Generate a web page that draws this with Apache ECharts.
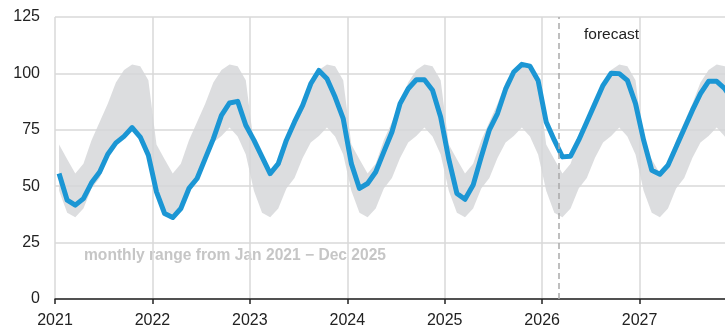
<!DOCTYPE html>
<html>
<head>
<meta charset="utf-8">
<script src="https://cdn.jsdelivr.net/npm/echarts@6/dist/echarts.min.js"></script>
<style>
html,body{margin:0;padding:0;background:#fff;}
#chart{width:725px;height:332px;}
</style>
</head>
<body>
<div id="chart"></div>
<script>
// Month index 0 = Jan 2021; points plotted mid-month
const yearLabels = ['2021','2022','2023','2024','2025','2026','2027'];
const monthly2021 = [55.6, 43.8, 41.6, 44.5, 51.5, 56.3, 64.2, 69.2, 72.1, 76.0, 71.8, 63.7];
const monthly2022 = [47.5, 37.9, 36.1, 40.1, 49.0, 53.4, 62.2, 71.0, 81.4, 86.9, 87.6, 77.0];
const monthly2023 = [70.4, 63.0, 55.6, 60.0, 70.4, 78.5, 85.8, 95.4, 101.3, 97.6, 89.5, 79.9];
const monthly2024 = [60.0, 49.0, 51.2, 56.3, 65.2, 74.0, 86.6, 93.2, 97.2, 97.2, 92.5, 80.7];
const monthly2025 = [62.0, 46.8, 44.2, 50.5, 63.0, 75.0, 82.2, 93.0, 100.6, 104.0, 103.2, 96.9];
const monthly2026 = [78.5, 70.4, 63.0, 63.3, 70.4, 78.5, 86.6, 94.7, 100.1, 99.9, 96.9, 86.6];
const monthly2027 = [70.4, 57.1, 55.3, 59.3, 67.4, 75.5, 83.6, 91.0, 96.5, 96.5, 93.2, 88.0];
// monthly range (Jan..Dec) from Jan 2021 - Dec 2025
const rangeLow  = [48.0, 38.2, 36.2, 40.1, 49.0, 53.6, 62.5, 69.4, 72.3, 76.0, 72.0, 64.0];
const rangeHigh = [68.5, 62.0, 55.6, 60.0, 70.4, 78.5, 86.6, 96.0, 101.5, 104.0, 103.2, 97.0];
const forecastStart = 62; // start of Mar 2026 in month units

const allYears = [monthly2021, monthly2022, monthly2023, monthly2024, monthly2025, monthly2026, monthly2027];
const lineData = [], bandData = [];
allYears.forEach((arr, y) => {
  arr.forEach((v, m) => {
    const x = y * 12 + m + 0.5;
    lineData.push([x, v]);
    bandData.push([x, rangeLow[m], rangeHigh[m]]);
  });
});

const chart = echarts.init(document.getElementById('chart'), null, {renderer: 'canvas'});
chart.setOption({
  animation: false,
  grid: {left: 55, right: -12, top: 17, bottom: 33, containLabel: false, outerBoundsMode: 'none'},
  xAxis: {
    type: 'value', min: 0, max: 84, interval: 12,
    axisLine: {show: true, lineStyle: {color: '#222', width: 1.5}},
    axisTick: {show: true, length: 5, lineStyle: {color: '#222', width: 1.5}},
    axisLabel: {
      color: '#222', fontSize: 16, fontFamily: 'Liberation Sans, Arial', margin: 14,
      formatter: v => (v % 12 === 0 && v / 12 < yearLabels.length) ? yearLabels[v / 12] : ''
    },
    splitLine: {show: true, lineStyle: {color: '#d9d9d9', width: 1.5}}
  },
  yAxis: {
    type: 'value', min: 0, max: 125, interval: 25,
    axisLine: {show: false}, axisTick: {show: false},
    axisLabel: {color: '#222', fontSize: 16, fontFamily: 'Liberation Sans, Arial', margin: 15},
    splitLine: {show: true, lineStyle: {color: '#d9d9d9', width: 1.5}}
  },
  series: [
    {
      type: 'custom', z: 1, silent: true,
      data: [0],
      renderItem: function (params, api) {
        const upper = bandData.map(d => api.coord([d[0], d[2]]));
        const lower = bandData.slice().reverse().map(d => api.coord([d[0], d[1]]));
        return {
          type: 'polygon',
          shape: {points: upper.concat(lower)},
          style: {fill: '#d6d7d9', opacity: 0.85}
        };
      }
    },
    {type: 'line', data: lineData, symbol: 'none', z: 3,
     lineStyle: {color: '#1b96d4', width: 5, join: 'round'},
     markLine: {
       symbol: 'none', silent: true, label: {show: false},
       lineStyle: {color: '#aaaaaa', type: [6, 4], width: 1.5},
       data: [{xAxis: forecastStart}]
     }}
  ],
  graphic: [
    {type: 'text', left: 584, top: 27, style: {text: 'forecast', fill: '#222', font: '15.5px "Liberation Sans", Arial'}},
    {type: 'text', left: 84, top: 248, style: {text: 'monthly range from Jan 2021 \u2212 Dec 2025', fill: '#c6c6c6', font: 'bold 15.6px "Liberation Sans", Arial'}}
  ]
});
</script>
</body>
</html>
